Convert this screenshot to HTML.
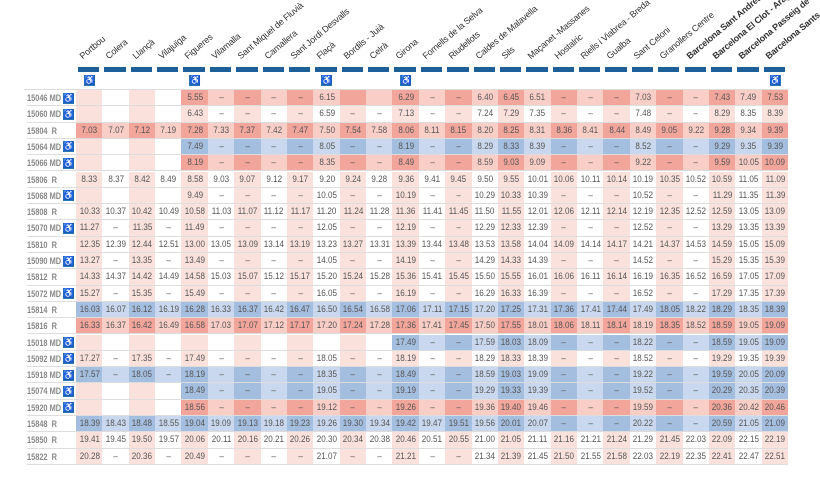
<!DOCTYPE html>
<html><head><meta charset="utf-8"><style>
body{margin:0;background:#fff;width:820px;height:480px;overflow:hidden;position:relative;font-family:"Liberation Sans",sans-serif}
.c{position:absolute;height:16.3px;line-height:16.3px;text-align:center;font-size:9.5px;color:#555;box-sizing:border-box;border-bottom:1px solid #ddd;white-space:nowrap}
.c span{display:inline-block;transform:scaleX(0.85)}
.l{position:absolute;font-size:9px;font-weight:bold;color:#888;line-height:16.3px;white-space:nowrap}
.l span{display:inline-block;transform:scaleX(0.82);transform-origin:0 50%}
.ic{position:absolute;width:11px;height:11px;background:#2a78b8;color:#fff;font-size:9px;line-height:11px;text-align:center}
.d{position:absolute;top:67px;height:5px;background:#1d5f99}
.h{position:absolute;font-size:9px;color:#333;transform-origin:0 100%;transform:rotate(-40deg);white-space:nowrap;letter-spacing:-0.2px}
</style></head><body>
<script>
var st=["Portbou","Colera","Llançà","Vilajuïga","Figueres","Vilamalla","Sant Miquel de Fluvià","Camallera","Sant Jordi Desvalls","Flaçà","Bordils - Juià","Celrà","Girona","Fornells de la Selva","Riudellots","Caldes de Malavella","Sils","Maçanet -Massanes","Hostalric","Riells i Viabrea - Breda","Gualba","Sant Celoni","Granollers Centre","Barcelona Sant Andreu","Barcelona El Clot - Aragó","Barcelona Passeig de Gràcia","Barcelona Sants"];
var X0=76,W=26.37,Y0=90,H=16.3,o="";
for(var i=0;i<27;i++){var x=X0+i*W;
o+='<div class="d" style="left:'+(x+2)+'px;width:'+(W-5)+'px"></div>';
o+='<div class="h" style="left:'+(x+8)+'px;top:51px;'+(i>=23?'font-weight:bold;':'')+'">'+st[i]+'</div>';}
[0,4,9,12,26].forEach(function(i){o+='<div class="ic" style="left:'+(X0+i*W+8)+'px;top:75px">♿</div>';});
var rows=[
["15046","MD","r",4,"5.55 – – – – 6.15 _ _ 6.29 – – 6.40 6.45 6.51 – – – 7.03 – – 7.43 7.49 7.53"],
["15060","MD","p",4,"6.43 – – – – 6.59 – – 7.13 – – 7.24 7.29 7.35 – – – 7.48 – – 8.29 8.35 8.39"],
["15804","R","r",0,"7.03 7.07 7.12 7.19 7.28 7.33 7.37 7.42 7.47 7.50 7.54 7.58 8.06 8.11 8.15 8.20 8.25 8.31 8.36 8.41 8.44 8.49 9.05 9.22 9.28 9.34 9.39"],
["15064","MD","b",4,"7.49 – – – – 8.05 – – 8.19 – – 8.29 8.33 8.39 – – – 8.52 – – 9.29 9.35 9.39"],
["15066","MD","r",4,"8.19 – – – – 8.35 – – 8.49 – – 8.59 9.03 9.09 – – – 9.22 – – 9.59 10.05 10.09"],
["15806","R","p",0,"8.33 8.37 8.42 8.49 8.58 9.03 9.07 9.12 9.17 9.20 9.24 9.28 9.36 9.41 9.45 9.50 9.55 10.01 10.06 10.11 10.14 10.19 10.35 10.52 10.59 11.05 11.09"],
["15068","MD","p",4,"9.49 – – – – 10.05 – – 10.19 – – 10.29 10.33 10.39 – – – 10.52 – – 11.29 11.35 11.39"],
["15808","R","p",0,"10.33 10.37 10.42 10.49 10.58 11.03 11.07 11.12 11.17 11.20 11.24 11.28 11.36 11.41 11.45 11.50 11.55 12.01 12.06 12.11 12.14 12.19 12.35 12.52 12.59 13.05 13.09"],
["15070","MD","p",0,"11.27 – 11.35 – 11.49 – – – – 12.05 – – 12.19 – – 12.29 12.33 12.39 – – – 12.52 – – 13.29 13.35 13.39"],
["15810","R","p",0,"12.35 12.39 12.44 12.51 13.00 13.05 13.09 13.14 13.19 13.23 13.27 13.31 13.39 13.44 13.48 13.53 13.58 14.04 14.09 14.14 14.17 14.21 14.37 14.53 14.59 15.05 15.09"],
["15090","MD","p",0,"13.27 – 13.35 – 13.49 – – – – 14.05 – – 14.19 – – 14.29 14.33 14.39 – – – 14.52 – – 15.29 15.35 15.39"],
["15812","R","p",0,"14.33 14.37 14.42 14.49 14.58 15.03 15.07 15.12 15.17 15.20 15.24 15.28 15.36 15.41 15.45 15.50 15.55 16.01 16.06 16.11 16.14 16.19 16.35 16.52 16.59 17.05 17.09"],
["15072","MD","p",0,"15.27 – 15.35 – 15.49 – – – – 16.05 – – 16.19 – – 16.29 16.33 16.39 – – – 16.52 – – 17.29 17.35 17.39"],
["15814","R","b",0,"16.03 16.07 16.12 16.19 16.28 16.33 16.37 16.42 16.47 16.50 16.54 16.58 17.06 17.11 17.15 17.20 17.25 17.31 17.36 17.41 17.44 17.49 18.05 18.22 18.29 18.35 18.39"],
["15816","R","r",0,"16.33 16.37 16.42 16.49 16.58 17.03 17.07 17.12 17.17 17.20 17.24 17.28 17.36 17.41 17.45 17.50 17.55 18.01 18.06 18.11 18.14 18.19 18.35 18.52 18.59 19.05 19.09"],
["15018","MD","b",12,"17.49 – – 17.59 18.03 18.09 – – – 18.22 – – 18.59 19.05 19.09"],
["15092","MD","p",0,"17.27 – 17.35 – 17.49 – – – – 18.05 – – 18.19 – – 18.29 18.33 18.39 – – – 18.52 – – 19.29 19.35 19.39"],
["15918","MD","b",0,"17.57 – 18.05 – 18.19 – – – – 18.35 – – 18.49 – – 18.59 19.03 19.09 – – – 19.22 – – 19.59 20.05 20.09"],
["15074","MD","b",4,"18.49 – – – – 19.05 – – 19.19 – – 19.29 19.33 19.39 – – – 19.52 – – 20.29 20.35 20.39"],
["15920","MD","r",4,"18.56 – – – – 19.12 – – 19.26 – – 19.36 19.40 19.46 – – – 19.59 – – 20.36 20.42 20.46"],
["15848","R","b",0,"18.39 18.43 18.48 18.55 19.04 19.09 19.13 19.18 19.23 19.26 19.30 19.34 19.42 19.47 19.51 19.56 20.01 20.07 – – – 20.22 – – 20.59 21.05 21.09"],
["15850","R","p",0,"19.41 19.45 19.50 19.57 20.06 20.11 20.16 20.21 20.26 20.30 20.34 20.38 20.46 20.51 20.55 21.00 21.05 21.11 21.16 21.21 21.24 21.29 21.45 22.03 22.09 22.15 22.19"],
["15822","R","p",0,"20.28 – 20.36 – 20.49 – – – – 21.07 – – 21.21 – – 21.34 21.39 21.45 21.50 21.55 21.58 22.03 22.19 22.35 22.41 22.47 22.51"]];
var col={p:["#fbe1dc","#ffffff"],r:["#f2a59b","#f9cec7"],b:["#a4bee0","#c9d8ee"]};
o+='<div style="position:absolute;left:24px;width:764px;top:'+(Y0-1)+'px;height:1px;background:#ddd"></div>';
rows.forEach(function(r,k){var y=Y0+k*H;var v=r[4].split(" ");
o+='<div class="l" style="left:27px;top:'+y+'px;width:49px;border-bottom:1px solid #ddd;height:16.3px;box-sizing:border-box"><span>'+r[0]+(r[1]=="MD"?' MD':'&nbsp;&nbsp;R')+'</span></div>';
if(r[1]=="MD")o+='<div class="ic" style="left:63px;top:'+(y+2.5)+'px">♿</div>';
for(var i=0;i<27;i++){var t="",s="p";
if(i>=r[3]){t=v[i-r[3]];s=r[2];if(t=="_")t="";}
o+='<div class="c" style="left:'+(X0+i*W)+'px;width:'+(W+0.5)+'px;top:'+y+'px;background:'+col[s][i%2]+'"><span>'+t+'</span></div>';}
});
document.write(o);
</script>
</body></html>
